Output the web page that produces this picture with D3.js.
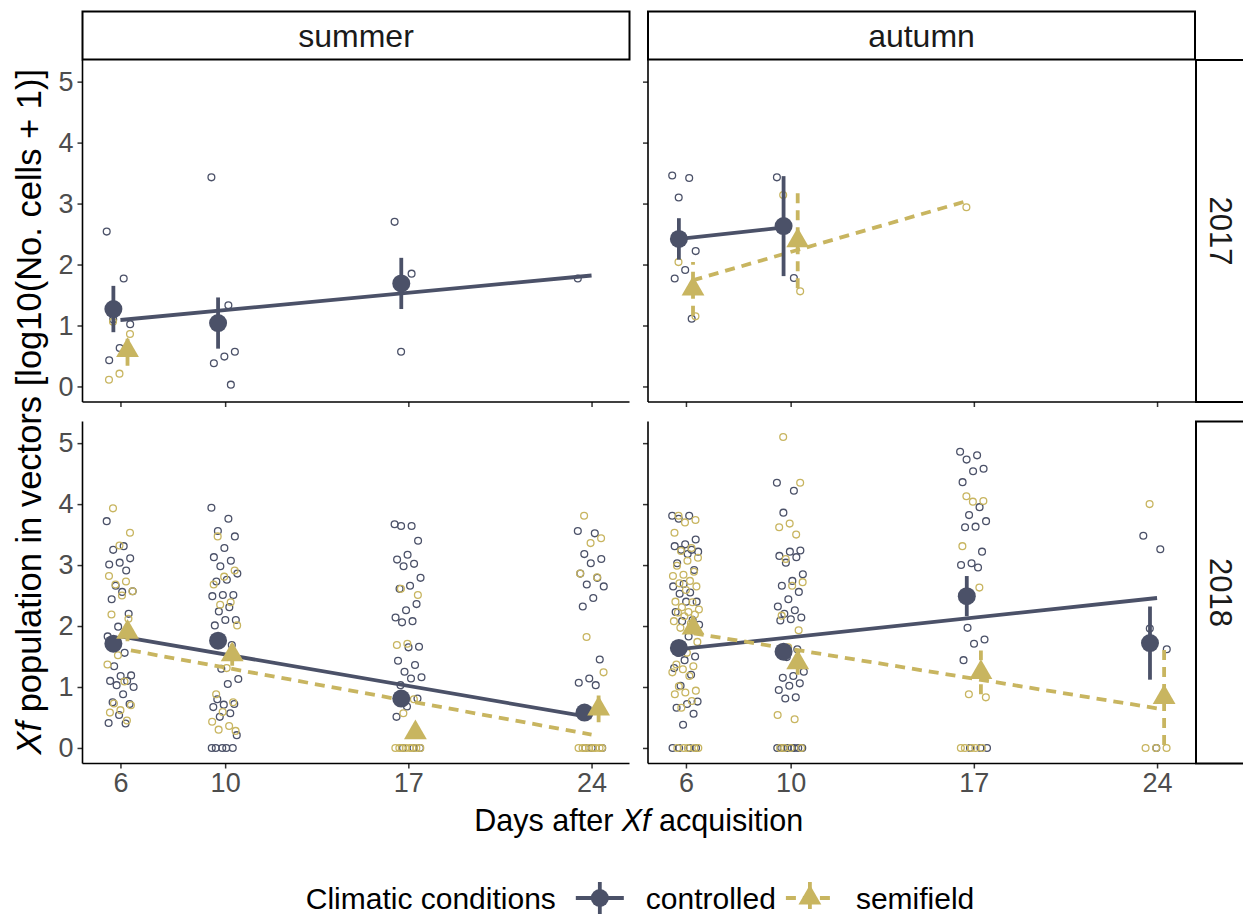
<!DOCTYPE html>
<html>
<head>
<meta charset="utf-8">
<script src="https://cdn.jsdelivr.net/npm/d3@7"></script>
<style>
  body { margin: 0; background: #fff; }
  text { font-family: "Liberation Sans", Arial, sans-serif; }
</style>
</head>
<body>
<svg id="chart" width="1243" height="915"></svg>
<script>
// facets and categories
var days = [6, 10, 17, 24];
var seasons = ["summer", "autumn"];
var years = ["2017", "2018"];
var conditions = ["controlled", "semifield"];
var yTicks = [0, 1, 2, 3, 4, 5];

// raw observations, one sub-array per day (6, 10, 17, 24)
var obs_summer2017_controlled = [[2.54, 1.77, 1.10, 1.02, 0.63, 0.43], [3.43, 1.33, 1.09, 0.57, 0.49, 0.38, 0.03], [2.70, 1.85, 0.57], [1.77]];
var obs_summer2017_semifield = [[1.06, 0.86, 0.21, 0.11], [], [], []];
var obs_autumn2017_controlled = [[3.46, 3.42, 3.10, 2.22, 1.91, 1.77, 1.11], [3.43, 1.78], [], []];
var obs_autumn2017_semifield = [[2.04, 1.15], [3.14, 1.56], [2.94], []];
var obs_summer2018_controlled = [
  [3.72, 3.31, 3.25, 3.11, 3.04, 3.01, 2.91, 2.66, 2.57, 2.56, 2.44, 2.20, 1.99, 1.83, 1.56, 1.34, 1.19, 1.18, 1.10, 1.10, 1.03, 1.00, 0.88, 0.75, 0.72, 0.54, 0.41, 0.40],
  [3.94, 3.76, 3.56, 3.47, 3.28, 3.13, 3.07, 2.98, 2.86, 2.76, 2.73, 2.51, 2.51, 2.49, 2.31, 2.24, 2.10, 2.10, 2.01, 1.69, 1.30, 1.13, 1.05, 0.80, 0.72, 0.71, 0.67, 0.57, 0.51, 0.21, 0, 0, 0, 0, 0],
  [3.67, 3.64, 3.64, 3.40, 3.17, 3.09, 3.02, 2.98, 2.79, 2.66, 2.61, 2.36, 2.26, 2.14, 2.08, 2.06, 1.66, 1.65, 1.43, 1.36, 1.25, 1.16, 1.14, 1.03, 0.81, 0.68, 0.51, 0, 0, 0],
  [3.56, 3.52, 3.18, 3.10, 3.03, 2.86, 2.79, 2.68, 2.65, 2.46, 2.32, 1.45, 1.14, 1.07, 1.03, 0, 0, 0]
];
var obs_summer2018_semifield = [
  [3.93, 3.53, 3.32, 2.82, 2.73, 2.68, 2.57, 2.50, 2.19, 2.12, 1.52, 1.37, 1.09, 0.73, 0.70, 0.62, 0.58, 0.45],
  [3.47, 2.91, 2.81, 2.68, 2.39, 2.35, 2.01, 1.31, 0.88, 0.75, 0.59, 0.43, 0.36, 0.30, 0.28],
  [2.61, 2.51, 1.71, 1.69, 0.80, 0.57, 0, 0, 0, 0, 0, 0, 0, 0],
  [3.81, 3.44, 3.36, 2.86, 2.80, 1.82, 1.24, 0, 0, 0, 0, 0, 0, 0, 0]
];
var obs_autumn2018_controlled = [
  [3.81, 3.81, 3.76, 3.42, 3.34, 3.31, 3.25, 3.25, 3.22, 3.18, 3.03, 2.92, 2.69, 2.65, 2.55, 2.53, 2.40, 2.40, 2.23, 2.10, 2.08, 2.02, 1.83, 1.56, 1.50, 1.44, 1.31, 1.20, 1.02, 0.76, 0.72, 0.66, 0.56, 0.38, 0, 0, 0, 0],
  [4.35, 4.22, 3.86, 3.24, 3.22, 3.15, 3.13, 3.04, 2.85, 2.74, 2.66, 2.56, 2.44, 2.32, 2.26, 2.20, 2.14, 2.11, 2.09, 1.62, 1.49, 1.25, 1.18, 1.15, 1.06, 1.02, 0.95, 0.83, 0.81, 0, 0, 0, 0, 0, 0, 0, 0],
  [4.86, 4.80, 4.73, 4.58, 4.54, 4.36, 3.95, 3.82, 3.72, 3.63, 3.62, 3.22, 3.03, 3.00, 2.96, 1.97, 1.78, 1.71, 1.44, 0, 0, 0],
  [3.48, 3.26, 1.96, 1.62, 0]
];
var obs_autumn2018_semifield = [
  [3.81, 3.74, 3.70, 3.53, 3.28, 3.23, 3.12, 3.07, 2.99, 2.89, 2.84, 2.82, 2.74, 2.70, 2.65, 2.59, 2.40, 2.39, 2.31, 2.27, 2.23, 2.22, 2.19, 2.16, 2.08, 2.04, 1.97, 1.74, 1.56, 1.37, 1.34, 1.29, 1.24, 1.18, 1.01, 0.94, 0.91, 0.88, 0.77, 0.66, 0, 0, 0, 0, 0],
  [5.10, 4.35, 3.68, 3.62, 3.50, 3.10, 2.72, 2.66, 2.17, 1.93, 1.65, 0.54, 0.47, 0, 0, 0, 0],
  [4.13, 4.05, 4.04, 3.31, 2.63, 0.88, 0.83, 0, 0, 0, 0, 0],
  [4.00, 0, 0, 0]
];

// group means and standard errors per day
var mean_summer2017_controlled = [1.27, 1.04, 1.69, null];
var se_summer2017_controlled = [0.38, 0.42, 0.42, null];
var mean_summer2017_semifield = [0.59, null, null, null];
var se_summer2017_semifield = [0.25, null, null, null];
var mean_autumn2017_controlled = [2.42, 2.63, null, null];
var se_autumn2017_controlled = [0.34, 0.82, null, null];
var mean_autumn2017_semifield = [1.60, 2.39, null, null];
var se_autumn2017_semifield = [0.44, 0.78, null, null];
var mean_summer2018_controlled = [1.71, 1.76, 0.81, 0.58];
var se_summer2018_controlled = [0.10, 0.12, 0.12, 0.08];
var mean_summer2018_semifield = [1.90, 1.53, 0.25, 0.64];
var se_summer2018_semifield = [0.15, 0.18, 0.10, 0.22];
var mean_autumn2018_controlled = [1.64, 1.58, 2.49, 1.72];
var se_autumn2018_controlled = [0.08, 0.12, 0.33, 0.60];
var mean_autumn2018_semifield = [1.97, 1.40, 1.24, 0.83];
var se_autumn2018_semifield = [0.10, 0.20, 0.36, 0.78];

// fitted linear trend, end points [day, value]
var fit_summer2017_controlled = [[6, 1.09], [24, 1.82]];
var fit_summer2017_semifield = null;
var fit_autumn2017_controlled = [[5.76, 2.42], [9.76, 2.61]];
var fit_autumn2017_semifield = [[6.25, 1.74], [16.8, 3.05]];
var fit_summer2018_controlled = [[6, 1.83], [24, 0.50]];
var fit_summer2018_semifield = [[6.4, 1.60], [24, 0.22]];
var fit_autumn2018_controlled = [[5.76, 1.62], [24, 2.46]];
var fit_autumn2018_semifield = [[6.3, 1.88], [24, 0.65]];

var colors = { controlled: "#4b5168", semifield: "#c8b560" };
var dash = { controlled: null, semifield: "10,7" };
var dodge = { controlled: -0.27, semifield: 0.27 };

// layout
var panelLeft = { summer: 82.5, autumn: 648 };
var panelTop = { "2017": 60, "2018": 421.5 };
var panelW = 547, panelH = 342;

var x = d3.scaleLinear().domain([4.55, 25.45]).range([0, panelW]);
var y = d3.scaleLinear().domain([-0.255, 5.355]).range([panelH, 0]);

var svg = d3.select("#chart");

function jitter(i, k) {
  // spread points evenly across +/-0.5 day
  return (((i + k * 0.37) * 0.6180339887) % 1 - 0.5) * 1.05;
}

seasons.forEach(function(season) {
  years.forEach(function(year) {
    var key = season + year;
    var g = svg.append("g")
      .attr("transform", "translate(" + panelLeft[season] + "," + panelTop[year] + ")");

    // raw points
    conditions.forEach(function(cond, k) {
      var obs = window["obs_" + key + "_" + cond];
      var pts = [];
      obs.forEach(function(vals, di) {
        vals.forEach(function(v, i) { pts.push({ day: days[di], v: v, i: i }); });
      });
      g.append("g").selectAll("circle")
        .data(pts)
        .enter().append("circle")
        .attr("cx", function(d) { return x(d.day + jitter(d.i, k)); })
        .attr("cy", function(d) { return y(d.v); })
        .attr("r", 3.4)
        .style("fill", "none")
        .style("stroke", colors[cond])
        .style("stroke-width", 1.3);
    });

    // trend lines
    conditions.forEach(function(cond) {
      var fit = window["fit_" + key + "_" + cond];
      if (!fit) return;
      g.append("path")
        .datum(fit)
        .attr("d", d3.line().x(function(d) { return x(d[0]); }).y(function(d) { return y(d[1]); }))
        .style("fill", "none")
        .style("stroke", colors[cond])
        .style("stroke-width", 3.8)
        .style("stroke-dasharray", dash[cond]);
    });

    // means with error bars
    conditions.forEach(function(cond) {
      var means = window["mean_" + key + "_" + cond];
      var ses = window["se_" + key + "_" + cond];
      var summ = [];
      means.forEach(function(m, di) {
        if (m !== null) summ.push({ day: days[di], m: m, se: ses[di] });
      });
      var sg = g.append("g");
      sg.selectAll("line")
        .data(summ)
        .enter().append("line")
        .attr("x1", function(d) { return x(d.day + dodge[cond]); })
        .attr("x2", function(d) { return x(d.day + dodge[cond]); })
        .attr("y1", function(d) { return y(Math.max(d.m - d.se, 0)); })
        .attr("y2", function(d) { return y(d.m + d.se); })
        .style("stroke", colors[cond])
        .style("stroke-width", 3.8)
        .style("stroke-dasharray", dash[cond]);
      if (cond === "controlled") {
        sg.selectAll("circle")
          .data(summ)
          .enter().append("circle")
          .attr("cx", function(d) { return x(d.day + dodge[cond]); })
          .attr("cy", function(d) { return y(d.m); })
          .attr("r", 9)
          .style("fill", colors[cond]);
      } else {
        sg.selectAll("path")
          .data(summ)
          .enter().append("path")
          .attr("d", d3.symbol().type(d3.symbolTriangle).size(225))
          .attr("transform", function(d) { return "translate(" + x(d.day + dodge[cond]) + "," + y(d.m) + ")"; })
          .style("fill", colors[cond]);
      }
    });

    // axes: labels only on the outer panels
    var yAxis = g.append("g")
      .call(d3.axisLeft(y).tickValues(yTicks).tickFormat(season === "summer" ? d3.format("d") : "")
        .tickSize(5).tickPadding(4));
    var xAxis = g.append("g")
      .attr("transform", "translate(0," + panelH + ")")
      .call(d3.axisBottom(x).tickValues(days).tickFormat(year === "2018" ? d3.format("d") : "")
        .tickSize(5).tickPadding(4));
    [yAxis, xAxis].forEach(function(ax) {
      ax.select(".domain").remove();
      ax.selectAll(".tick line").style("stroke", "#333").style("stroke-width", 1.5);
      ax.selectAll(".tick text")
        .style("font-size", "27px")
        .style("fill", "#4d4d4d")
        .style("font-family", "'Liberation Sans', Arial, sans-serif");
    });
    g.append("line").attr("x1", 0).attr("x2", 0).attr("y1", 0).attr("y2", panelH)
      .style("stroke", "#000").style("stroke-width", 1.6);
    g.append("line").attr("x1", 0).attr("x2", panelW).attr("y1", panelH).attr("y2", panelH)
      .style("stroke", "#000").style("stroke-width", 1.6);
  });
});

// column strips
seasons.forEach(function(season) {
  svg.append("rect")
    .attr("x", panelLeft[season]).attr("y", 11.5)
    .attr("width", panelW).attr("height", 48)
    .style("fill", "#fff").style("stroke", "#000").style("stroke-width", 2);
  svg.append("text")
    .attr("x", panelLeft[season] + panelW / 2).attr("y", 36)
    .attr("text-anchor", "middle").attr("dominant-baseline", "central")
    .style("font-size", "32px").style("fill", "#1a1a1a")
    .text(season);
});

// row strips
years.forEach(function(year) {
  var sx = panelLeft.autumn + panelW + 1;
  svg.append("rect")
    .attr("x", sx).attr("y", panelTop[year])
    .attr("width", 50).attr("height", panelH)
    .style("fill", "#fff").style("stroke", "#000").style("stroke-width", 2);
  svg.append("text")
    .attr("transform", "translate(" + (sx + 24) + "," + (panelTop[year] + panelH / 2) + ") rotate(90)")
    .attr("text-anchor", "middle").attr("dominant-baseline", "central")
    .style("font-size", "31px").style("fill", "#1a1a1a")
    .text(year);
});

// axis titles
var xt = svg.append("text")
  .attr("x", (panelLeft.summer + panelLeft.autumn + panelW) / 2).attr("y", 831)
  .attr("text-anchor", "middle")
  .style("font-size", "30.5px").style("fill", "#000");
xt.append("tspan").text("Days after ");
xt.append("tspan").style("font-style", "italic").text("Xf");
xt.append("tspan").text(" acquisition");

var yt = svg.append("text")
  .attr("transform", "translate(41," + ((panelTop["2017"] + panelTop["2018"] + panelH) / 2) + ") rotate(-90)")
  .attr("text-anchor", "middle")
  .style("font-size", "34.5px").style("fill", "#000");
yt.append("tspan").style("font-style", "italic").text("Xf");
yt.append("tspan").text(" population in vectors [log10(No. cells + 1)]");

// legend
var leg = svg.append("g").attr("transform", "translate(0,898)");
var lt = leg.append("text").attr("x", 0).attr("dominant-baseline", "central")
  .style("font-size", "30px").text("Climatic conditions");
var cx = lt.node().getComputedTextLength() + 20;
conditions.forEach(function(cond) {
  var kg = leg.append("g").attr("transform", "translate(" + cx + ",0)");
  kg.append("line").attr("x1", 0).attr("x2", 48).attr("y1", 0).attr("y2", 0)
    .style("stroke", colors[cond]).style("stroke-width", 3.8).style("stroke-dasharray", dash[cond]);
  kg.append("line").attr("x1", 24).attr("x2", 24).attr("y1", -16).attr("y2", 16)
    .style("stroke", colors[cond]).style("stroke-width", 3.8).style("stroke-dasharray", dash[cond]);
  if (cond === "controlled") {
    kg.append("circle").attr("cx", 24).attr("r", 9).style("fill", colors[cond]);
  } else {
    kg.append("path").attr("d", d3.symbol().type(d3.symbolTriangle).size(225)())
      .attr("transform", "translate(24,0)").style("fill", colors[cond]);
  }
  var t = leg.append("text").attr("x", cx + 48 + 22).attr("dominant-baseline", "central")
    .style("font-size", "30px").text(cond);
  cx = cx + 48 + 22 + t.node().getComputedTextLength() + 10;
});
var legW = cx - 10;
leg.attr("transform", "translate(" + (640 - legW / 2) + ",898)");
</script>
</body>
</html>
